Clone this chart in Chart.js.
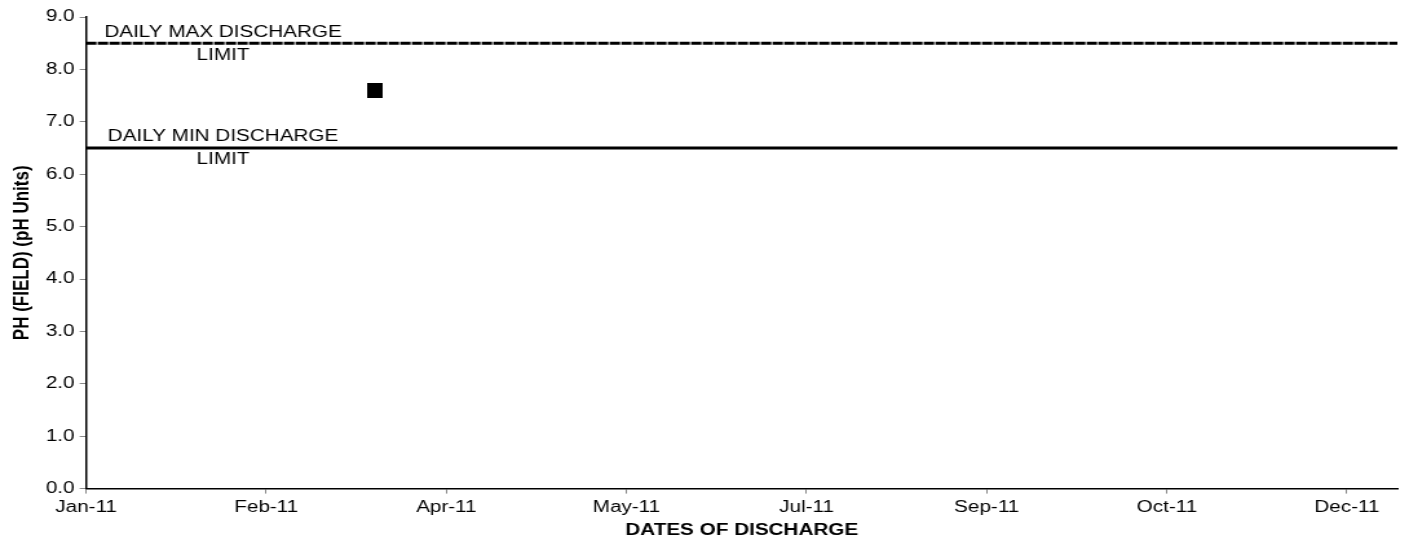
<!DOCTYPE html>
<html>
<head>
<meta charset="utf-8">
<script src="https://cdn.jsdelivr.net/npm/chart.js@4"></script>
<style>
  html, body { margin: 0; padding: 0; background: #fff; }
  #wrap { width: 1409px; height: 557px; overflow: hidden; }
  /* the original picture is stretched sideways, so draw narrow and widen with css */
  #myChart { display: block; }
</style>
</head>
<body>
<div id="wrap"><canvas id="myChart" width="1090" height="557" style="width:1409px;height:557px"></canvas></div>
<script>
// days counted from 1-Jan-2011
const startDate = new Date(2011, 0, 1);
const sampleDays = [80];          // 22-Mar-2011
const phValues = [7.6];
const maxLimit = 8.5;
const minLimit = 6.5;
const axisDays = [0, 364];
const tickDays = [0, 50, 100, 150, 200, 250, 300, 350];
const monthNames = ['Jan','Feb','Mar','Apr','May','Jun','Jul','Aug','Sep','Oct','Nov','Dec'];
const limitLabels = [['DAILY MAX DISCHARGE', 'LIMIT'], ['DAILY MIN DISCHARGE', 'LIMIT']];
const labelDay = 38;

const stretch = 1409 / 1090;

function dayToLabel(d){
  let dt = new Date(startDate.getTime());
  dt.setDate(dt.getDate() + d);
  return monthNames[dt.getMonth()] + '-' + String(dt.getFullYear()).slice(2);
}

// square marker, made narrower so it ends up square after the stretch
const marker = document.createElement('canvas');
marker.width = Math.round(15 / stretch);
marker.height = 15;
let mctx = marker.getContext('2d');
mctx.fillStyle = '#000';
mctx.fillRect(0, 0, marker.width, marker.height);

const FONT = 'Liberation Sans, Arial, sans-serif';

const limitText = {
  id: 'limitText',
  afterDatasetsDraw(chart){
    const ctx = chart.ctx;
    const xs = chart.scales.x, ys = chart.scales.y;
    const limits = [maxLimit, minLimit];
    ctx.save();
    ctx.fillStyle = '#000';
    ctx.font = '16px ' + FONT;
    ctx.textAlign = 'center';
    ctx.textBaseline = 'middle';
    for (let i = 0; i < limits.length; i++){
      const px = xs.getPixelForValue(labelDay);
      const py = ys.getPixelForValue(limits[i]);
      ctx.fillText(limitLabels[i][0], px, py - 11);
      ctx.fillText(limitLabels[i][1], px, py + 12);
    }
    ctx.restore();
  }
};

const ctx = document.getElementById('myChart');
const myChart = new Chart(ctx, {
  type: 'scatter',
  data: {
    datasets: [
      {
        label: 'pH',
        data: sampleDays.map((d, i) => ({x: d, y: phValues[i]})),
        pointStyle: marker,
        pointRadius: 8,
        showLine: false
      },
      {
        label: 'max',
        type: 'line',
        data: axisDays.map(d => ({x: d, y: maxLimit})),
        borderColor: '#000',
        borderWidth: 3,
        borderDash: [8, 1],
        pointRadius: 0,
        fill: false
      },
      {
        label: 'min',
        type: 'line',
        data: axisDays.map(d => ({x: d, y: minLimit})),
        borderColor: '#000',
        borderWidth: 3,
        pointRadius: 0,
        fill: false
      }
    ]
  },
  options: {
    responsive: false,
    maintainAspectRatio: false,
    animation: false,
    devicePixelRatio: 1,
    layout: { padding: { top: 17, right: 2, bottom: 17, left: 7 } },
    plugins: {
      legend: { display: false },
      tooltip: { enabled: false }
    },
    scales: {
      x: {
        type: 'linear',
        min: axisDays[0],
        max: axisDays[1],
        afterBuildTicks(scale){ scale.ticks = tickDays.map(v => ({value: v})); },
        grid: { display: true, drawOnChartArea: false, drawTicks: true, tickLength: 5, tickColor: '#888' },
        border: { display: true, color: '#000', width: 1.5 },
        ticks: {
          color: '#000',
          font: { family: FONT, size: 16 },
          padding: 4,
          maxRotation: 0,
          autoSkip: false,
          callback: v => dayToLabel(v)
        },
        title: {
          display: true,
          text: 'DATES OF DISCHARGE',
          color: '#000',
          font: { family: FONT, size: 16, weight: 'bold' },
          padding: { top: 0, bottom: 0 }
        }
      },
      y: {
        min: 0,
        max: 9,
        ticks: {
          stepSize: 1,
          color: '#000',
          font: { family: FONT, size: 16 },
          padding: 4,
          callback: v => v.toFixed(1)
        },
        grid: { display: true, drawOnChartArea: false, drawTicks: true, tickLength: 5, tickColor: '#888' },
        border: { display: true, color: '#000', width: 1.5 },
        title: {
          display: true,
          text: 'PH (FIELD) (pH Units)',
          color: '#000',
          font: { family: FONT, size: 17, weight: 'bold' },
          padding: { top: 0, bottom: 4 }
        }
      }
    }
  },
  plugins: [limitText]
});
</script>
</body>
</html>
